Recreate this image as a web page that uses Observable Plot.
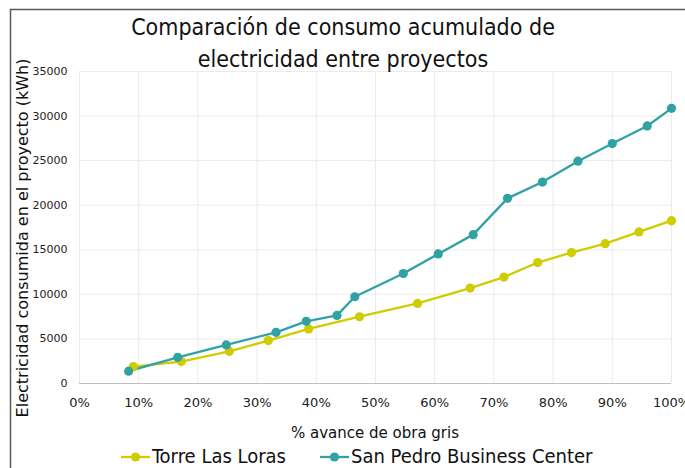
<!DOCTYPE html>
<html>
<head>
<meta charset="utf-8">
<script src="https://cdn.jsdelivr.net/npm/d3@7"></script>
<script src="https://cdn.jsdelivr.net/npm/@observablehq/plot@0.6"></script>
<style>
  html, body { margin: 0; padding: 0; background: #fff; }
  #chart { width: 685px; height: 468px; overflow: hidden; }
</style>
</head>
<body>
<div id="chart"></div>
<script>
const titleLines = ["Comparación de consumo acumulado de", "electricidad entre proyectos"];
const xLabel = "% avance de obra gris";
const yLabel = "Electricidad consumida en el proyecto (kWh)";
const seriesNames = ["Torre Las Loras", "San Pedro Business Center"];
const seriesColors = ["#cfcc00", "#31a2a3"];

const torreX = [9.1, 17.2, 25.3, 31.9, 38.7, 47.3, 57.1, 66.0, 71.7, 77.4, 83.1, 88.8, 94.5, 100];
const torreY = [1900, 2460, 3610, 4810, 6120, 7490, 8980, 10700, 11940, 13570, 14690, 15690, 17000, 18270];

const sanPedroX = [8.3, 16.6, 24.8, 33.2, 38.3, 43.5, 46.5, 54.7, 60.6, 66.5, 72.3, 78.2, 84.2, 90.0, 95.9, 100];
const sanPedroY = [1380, 2940, 4330, 5740, 6970, 7640, 9730, 12340, 14540, 16700, 20770, 22600, 24940, 26920, 28890, 30870];

const xTicks = [0, 10, 20, 30, 40, 50, 60, 70, 80, 90, 100];
const yTicks = [0, 5000, 10000, 15000, 20000, 25000, 30000, 35000];

const data = [
  ...torreX.map((x, i) => ({series: seriesNames[0], x, y: torreY[i]})),
  ...sanPedroX.map((x, i) => ({series: seriesNames[1], x, y: sanPedroY[i]}))
];

const W = 685, H = 468;
const plot = Plot.plot({
  width: W,
  height: H,
  marginTop: 71,
  marginBottom: 85,
  marginLeft: 79,
  marginRight: 14,
  style: {fontFamily: "'DejaVu Sans', sans-serif", background: "#fff", overflow: "hidden"},
  x: {domain: [0, 100], ticks: xTicks, tickFormat: d => d + "%", label: null, tickSize: 0, tickPadding: 14},
  y: {domain: [0, 35000], ticks: yTicks, tickFormat: d => String(d), label: null, tickSize: 0, tickPadding: 12},
  color: {domain: seriesNames, range: seriesColors},
  marks: [
    Plot.gridX(xTicks, {stroke: "#ebebeb", strokeOpacity: 1, strokeWidth: 1}),
    Plot.gridY(yTicks, {stroke: "#ebebeb", strokeOpacity: 1, strokeWidth: 1}),
    Plot.ruleY([0], {stroke: "#bfbfbf", strokeWidth: 1.2}),
    Plot.axisY({ticks: yTicks, tickSize: 0, tickPadding: 12, fontSize: 11, fill: "#222", tickFormat: d => String(d)}),
    Plot.axisX({ticks: xTicks, tickSize: 0, tickPadding: 14, fontSize: 13, fill: "#222", tickFormat: d => d + "%"}),
    Plot.line(data, {x: "x", y: "y", z: "series", stroke: "series", strokeWidth: 2.3}),
    Plot.dot(data, {x: "x", y: "y", fill: "series", r: 4.6, stroke: null})
  ]
});

document.getElementById("chart").appendChild(plot);
const svg = d3.select(plot);

// chart frame (partially visible, as in reference)
svg.append("rect")
  .attr("x", 10.5).attr("y", 9.5).attr("width", 800).attr("height", 600)
  .attr("fill", "none").attr("stroke", "#595959").attr("stroke-width", 1.5);

// title
const title = svg.append("text")
  .attr("text-anchor", "middle")
  .attr("font-family", "'DejaVu Sans Condensed', 'DejaVu Sans', sans-serif")
  .attr("font-size", 23)
  .attr("fill", "#111");
titleLines.forEach((t, i) => {
  title.append("tspan").attr("x", 343).attr("y", 35 + i * 32).text(t);
});

// y label
svg.append("text")
  .attr("transform", "translate(28,238) rotate(-90)")
  .attr("text-anchor", "middle")
  .attr("font-family", "'DejaVu Sans', sans-serif")
  .attr("font-size", 16)
  .attr("fill", "#111")
  .text(yLabel);

// x label
svg.append("text")
  .attr("x", 375).attr("y", 438)
  .attr("text-anchor", "middle")
  .attr("font-family", "'DejaVu Sans', sans-serif")
  .attr("font-size", 15)
  .attr("fill", "#111")
  .text(xLabel);

// legend
const legendItems = [
  {name: seriesNames[0], color: seriesColors[0], x0: 121},
  {name: seriesNames[1], color: seriesColors[1], x0: 320}
];
legendItems.forEach(it => {
  const g = svg.append("g");
  g.append("line").attr("x1", it.x0).attr("x2", it.x0 + 29).attr("y1", 457).attr("y2", 457)
    .attr("stroke", it.color).attr("stroke-width", 2.3);
  g.append("circle").attr("cx", it.x0 + 14.5).attr("cy", 457).attr("r", 4.6).attr("fill", it.color);
  g.append("text").attr("x", it.x0 + 31).attr("y", 463)
    .attr("text-anchor", "start")
    .attr("font-family", "'DejaVu Sans Condensed', 'DejaVu Sans', sans-serif")
    .attr("font-size", 20).attr("fill", "#111").text(it.name);
});
</script>
</body>
</html>
